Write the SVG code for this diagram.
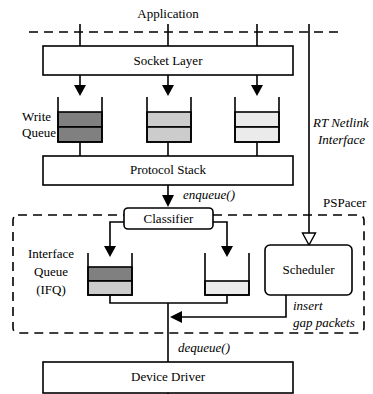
<svg xmlns="http://www.w3.org/2000/svg" width="373" height="394" viewBox="0 0 373 394" font-family="'Liberation Serif', 'DejaVu Serif', serif">
<defs>
<style>
text{font-family:'Liberation Serif','DejaVu Serif',serif;font-size:13px;fill:#000}
.it{font-style:italic}
.mid{text-anchor:middle}
.box{fill:#fff;stroke:#000;stroke-width:1.6}
.ln{fill:none;stroke:#000;stroke-width:1.6}
.dash{fill:none;stroke:#000;stroke-width:1.6;stroke-dasharray:9,6}
.c1{fill:#808080;stroke:#000;stroke-width:1.6}
.c2{fill:#cccccc;stroke:#000;stroke-width:1.6}
.c3{fill:#ebebeb;stroke:#000;stroke-width:1.6}
.ah{fill:#000}
</style>
</defs>
<rect width="373" height="394" fill="#fff"/>
<text class="mid" x="168" y="18">Application</text>
<line class="dash" x1="29" y1="32" x2="338" y2="32"/>
<g id="pspacer">
<rect class="dash" x="13" y="215" width="351" height="118" rx="5"/>
<text x="323" y="207">PSPacer</text>
</g>
<g id="connectors">
<line class="ln" x1="80" y1="24" x2="80" y2="46"/>
<line class="ln" x1="168" y1="24" x2="168" y2="46"/>
<line class="ln" x1="257" y1="24" x2="257" y2="46"/>
<line class="ln" x1="80" y1="75" x2="80" y2="86"/>
<polygon class="ah" points="74,85 86,85 80,96"/>
<line class="ln" x1="168" y1="75" x2="168" y2="86"/>
<polygon class="ah" points="162,85 174,85 168,96"/>
<line class="ln" x1="257" y1="75" x2="257" y2="86"/>
<polygon class="ah" points="251,85 263,85 257,96"/>
<line class="ln" x1="80" y1="142" x2="80" y2="156"/>
<line class="ln" x1="168" y1="142" x2="168" y2="156"/>
<line class="ln" x1="257" y1="142" x2="257" y2="156"/>
<line class="ln" x1="168" y1="185" x2="168" y2="196"/>
<polygon class="ah" points="162,195 174,195 168,207"/>
<text class="it" x="183" y="199">enqueue()</text>
<polyline class="ln" points="124,222 110,222 110,247"/>
<polygon class="ah" points="104,246 116,246 110,257"/>
<polyline class="ln" points="213,222 227,222 227,247"/>
<polygon class="ah" points="221,246 233,246 227,257"/>
<line class="ln" x1="309" y1="24" x2="309" y2="233"/>
<polygon points="302.5,233 315.5,233 309,245" fill="#fff" stroke="#000" stroke-width="1.4"/>
<text class="it" x="313" y="127">RT Netlink</text>
<text class="it" x="318" y="144">Interface</text>
<polyline class="ln" points="110,295 110,303 227,303 227,295"/>
<line class="ln" x1="168" y1="303" x2="168" y2="362"/>
<polyline class="ln" points="286,295 286,317 181,317"/>
<polygon class="ah" points="170,317 182,311 182,323"/>
<text class="it" x="293" y="310">insert</text>
<text class="it" x="293" y="327">gap packets</text>
<text class="it" x="178" y="352">dequeue()</text>
<line class="ln" x1="168" y1="393" x2="168" y2="394"/>
</g>
<g id="socket-layer">
<rect class="box" x="43" y="46" width="250" height="29"/>
<text class="mid" x="168" y="65">Socket Layer</text>
</g>
<g id="write-queue-1">
<rect class="c1" x="58" y="112" width="44" height="15"/>
<rect class="c1" x="58" y="127" width="44" height="15"/>
<polyline class="ln" points="58,97 58,142 102,142 102,97"/>
</g>
<g id="write-queue-2">
<rect class="c2" x="147" y="112" width="44" height="15"/>
<rect class="c2" x="147" y="127" width="44" height="15"/>
<polyline class="ln" points="147,97 147,142 191,142 191,97"/>
</g>
<g id="write-queue-3">
<rect class="c3" x="235" y="112" width="44" height="15"/>
<rect class="c3" x="235" y="127" width="44" height="15"/>
<polyline class="ln" points="235,97 235,142 279,142 279,97"/>
</g>
<text x="22" y="121">Write</text>
<text x="22" y="137">Queue</text>
<g id="protocol-stack">
<rect class="box" x="43" y="156" width="250" height="29"/>
<text class="mid" x="168" y="174">Protocol Stack</text>
</g>
<g id="classifier">
<rect class="box" x="124" y="208" width="89" height="21" rx="4"/>
<text class="mid" x="168.5" y="223">Classifier</text>
</g>
<g id="ifq-1">
<rect class="c1" x="88" y="267" width="44" height="14"/>
<rect class="c2" x="88" y="281" width="44" height="14"/>
<polyline class="ln" points="88,253 88,295 132,295 132,253"/>
</g>
<g id="ifq-2">
<rect class="c3" x="205" y="281" width="44" height="14"/>
<polyline class="ln" points="205,253 205,295 249,295 249,253"/>
</g>
<text class="mid" x="51" y="258">Interface</text>
<text class="mid" x="51" y="276">Queue</text>
<text class="mid" x="51" y="294">(IFQ)</text>
<g id="scheduler">
<rect class="box" x="265" y="245" width="87" height="50" rx="5"/>
<text class="mid" x="308.5" y="274">Scheduler</text>
</g>
<g id="device-driver">
<rect class="box" x="43" y="362" width="250" height="31"/>
<text class="mid" x="168" y="381">Device Driver</text>
</g>
</svg>
